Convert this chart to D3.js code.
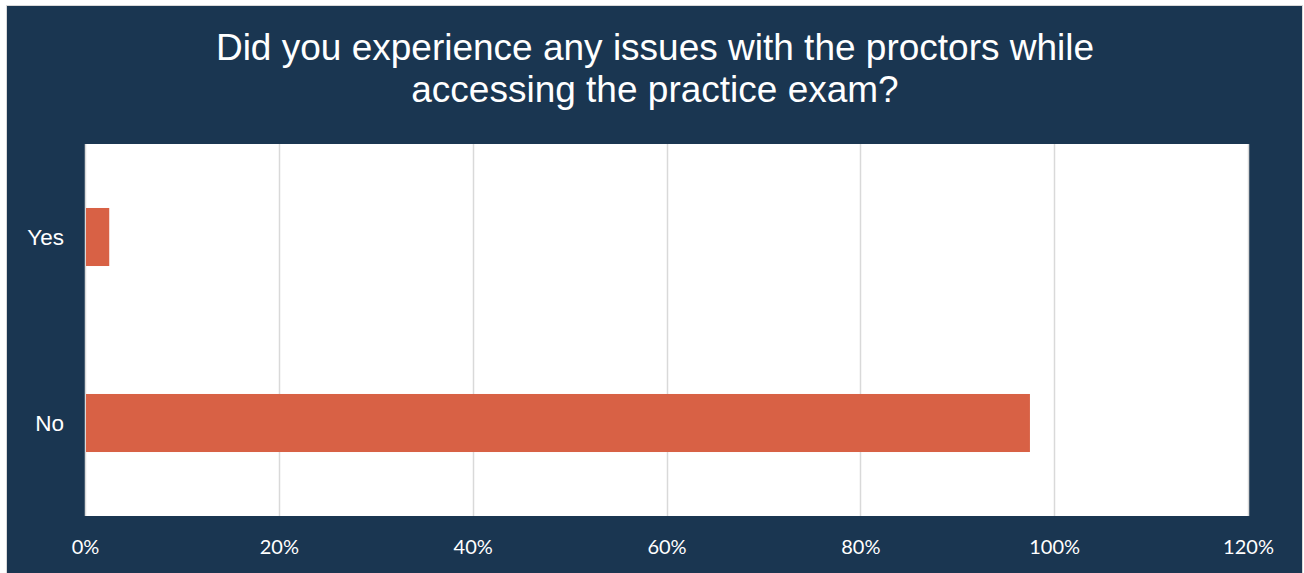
<!DOCTYPE html>
<html>
<head>
<meta charset="utf-8">
<script src="https://cdn.jsdelivr.net/npm/d3@7"></script>
<style>
  html, body { margin: 0; padding: 0; background: #ffffff; }
  svg { display: block; }
</style>
</head>
<body>
<svg id="chart" width="1304" height="573"></svg>
<script>
// Survey responses (share of respondents)
const categories = ["Yes", "No"];
const values = [0.025, 0.975];
const tickValues = [0, 0.2, 0.4, 0.6, 0.8, 1.0, 1.2];
const titleLines = [
  "Did you experience any issues with the proctors while",
  "accessing the practice exam?"
];

const W = 1304, H = 573;
const navy = "#1a3651";
const barColor = "#d86145";
const gridColor = "#d9d9d9";

const svg = d3.select("#chart");

// Outer panel with thin light border
svg.append("rect")
  .attr("x", 6.5).attr("y", 5.5)
  .attr("width", 1296).attr("height", 570)
  .attr("fill", navy)
  .attr("stroke", "#d9d9d9").attr("stroke-width", 1);

// Title
const title = svg.append("text")
  .attr("text-anchor", "middle")
  .attr("fill", "#ffffff")
  .style("font-family", "'Liberation Sans', Arial, sans-serif")
  .style("font-size", "37px");
titleLines.forEach((line, i) => {
  title.append("tspan")
    .attr("x", 655)
    .attr("y", 60 + i * 42)
    .text(line);
});

// Plot area
const plot = { left: 85, right: 1248, top: 144, bottom: 516 };

svg.append("rect")
  .attr("x", plot.left).attr("y", plot.top)
  .attr("width", plot.right - plot.left)
  .attr("height", plot.bottom - plot.top)
  .attr("fill", "#ffffff");

const x = d3.scaleLinear().domain([0, 1.2]).range([plot.left, plot.right]);
const y = d3.scaleBand().domain(categories)
  .range([plot.top, plot.bottom])
  .paddingInner(0.688).paddingOuter(0.344);

// Vertical gridlines
svg.append("g")
  .selectAll("line")
  .data(tickValues)
  .join("line")
  .attr("x1", d => Math.round(x(d)) + 0.5)
  .attr("x2", d => Math.round(x(d)) + 0.5)
  .attr("y1", plot.top)
  .attr("y2", plot.bottom)
  .attr("stroke", gridColor)
  .attr("stroke-width", 1.5);

// Bars
svg.append("g")
  .selectAll("rect")
  .data(categories.map((c, i) => ({ c, v: values[i] })))
  .join("rect")
  .attr("x", x(0) + 1)
  .attr("y", d => y(d.c))
  .attr("width", d => x(d.v) - x(0) - 1)
  .attr("height", y.bandwidth())
  .attr("fill", barColor);

// Category axis
const yAxis = svg.append("g")
  .attr("transform", `translate(${plot.left},0)`)
  .call(d3.axisLeft(y).tickSize(0).tickPadding(21));
yAxis.select(".domain").remove();
yAxis.selectAll("text")
  .attr("fill", "#ffffff")
  .attr("dy", "0.36em")
  .style("font-family", "'Liberation Sans', Arial, sans-serif")
  .style("font-size", "22.5px");

// Value axis
const xAxis = svg.append("g")
  .attr("transform", `translate(0,${plot.bottom})`)
  .call(d3.axisBottom(x).tickValues(tickValues)
    .tickFormat(d3.format(".0%")).tickSize(0).tickPadding(24));
xAxis.select(".domain").remove();
xAxis.selectAll("text")
  .attr("fill", "#ffffff")
  .style("font-family", "Lato, 'Open Sans', sans-serif")
  .style("font-size", "20px");
</script>
</body>
</html>
